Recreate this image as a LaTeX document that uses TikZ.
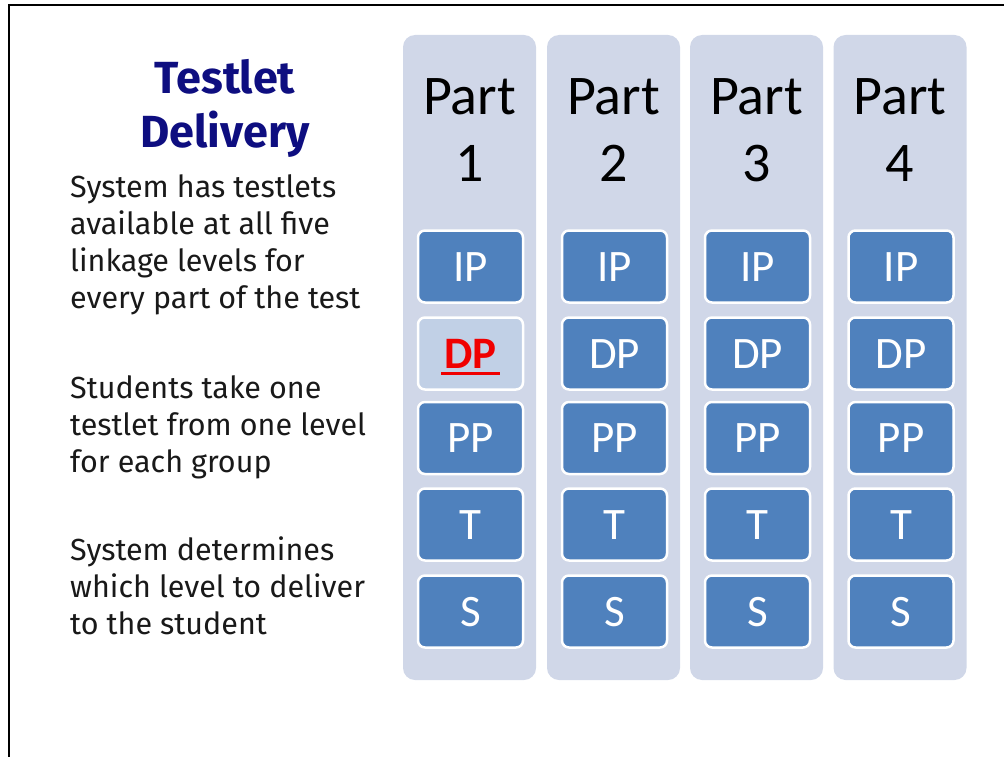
\documentclass[tikz,border=0pt]{standalone}
\usepackage{fontspec}
\setmainfont{Carlito}
\newfontfamily\lft{Fira Sans}
\definecolor{colbg}{RGB}{208,215,232}
\definecolor{boxblue}{RGB}{79,129,189}
\definecolor{boxlight}{RGB}{193,208,230}
\definecolor{navy}{RGB}{14,14,128}
\definecolor{hired}{RGB}{240,0,0}
\newcommand{\redul}[1]{{\setbox0\hbox{#1}\rlap{\kern-3pt\lower7pt\hbox{\rule{\dimexpr\wd0+6pt\relax}{3pt}}}\box0}}
\begin{document}
\begin{tikzpicture}[x=1pt,y=-1pt,
  colbox/.style={fill=colbg,rounded corners=12pt,minimum width=133pt,minimum height=645pt,inner sep=0pt},
  lvl/.style={fill=boxblue,draw=white,line width=2.5pt,rounded corners=7pt,minimum width=105pt,minimum height=72pt,
    inner sep=0pt,text=white,font=\fontsize{45}{50}\selectfont,text height=29pt,text depth=0pt},
  lvlhi/.style={lvl,fill=boxlight,text=hired,font=\fontsize{45}{50}\selectfont\bfseries},
  parttxt/.style={align=center,font=\fontsize{56}{67}\selectfont,inner sep=0pt},
  bodytxt/.style={align=left,font=\lft\fontsize{30.5}{37}\selectfont,inner sep=0pt,text=black!90},
  titletxt/.style={align=center,font=\lft\bfseries\fontsize{45}{54}\selectfont,inner sep=0pt,text=navy}
]
\useasboundingbox (0,0) rectangle (1004,757);
\coordinate (fb) at (9,757);
\coordinate (fc) at (9,5);
\coordinate (fr) at (1004,5);
\draw[line width=2.5pt] (fb) -- (fc) -- (fr);

\foreach \i/\x in {1/469.5,2/613.5,3/756.5,4/900}{
  \node[colbox] (col\i) at (\x,357.5) {};
  \node[parttxt,anchor=base] (part\i) at (\x,182) {Part\\\i};
  \node[lvl] (ip\i) at (\x+1,266.5) {IP};
  \node[lvl] (pp\i) at (\x+1,438) {PP};
  \node[lvl] (t\i) at (\x+1,524.5) {T};
  \node[lvl] (s\i) at (\x+1,611.5) {S};
}
\node[lvlhi] (dp1) at (470.5,353.5) {\redul{DP}};
\foreach \i/\x in {2/613.5,3/756.5,4/900}{
  \node[lvl] (dp\i) at (\x+1,353.5) {DP};
}

\node[titletxt,anchor=base] (title) at (225,147) {Testlet\\Delivery};
\node[bodytxt,anchor=base west] (b1) at (70,308) {System has testlets\\available at all five\\linkage levels for\\every part of the test};
\node[bodytxt,anchor=base west] (b2) at (70,472) {Students take one\\testlet from one level\\for each group};
\node[bodytxt,anchor=base west] (b3) at (70,634) {System determines\\which level to deliver\\to the student};
\end{tikzpicture}
\end{document}
